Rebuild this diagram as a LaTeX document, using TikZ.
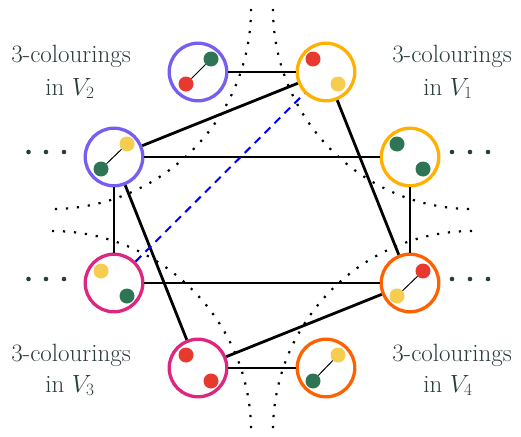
\documentclass[tikz,border=0pt]{standalone}
\usetikzlibrary{calc}
\definecolor{cpurple}{HTML}{785EF0}
\definecolor{cgold}{HTML}{FFB000}
\definecolor{cmagenta}{HTML}{DC267F}
\definecolor{corange}{HTML}{FE6100}
\definecolor{dred}{HTML}{E8392F}
\definecolor{dgreen}{HTML}{2E7556}
\definecolor{dyellow}{HTML}{F6CD4E}
\definecolor{txt}{HTML}{2A3B3B}
\begin{document}
\begin{tikzpicture}[x=1pt,y=-1pt,
  vbox/.style={circle,draw,line width=3.3pt,minimum size=57.6pt,inner sep=0pt,fill=white},
  vdot/.style={circle,minimum size=15pt,inner sep=0pt},
  link/.style={line width=1pt,black},
  edge/.style={line width=2.8pt,black},
  sep/.style={line width=2.2pt,dash pattern=on 2.2pt off 8.8pt,black},
  ell/.style={circle,fill=txt,inner sep=0pt,minimum size=4.6pt},
  lab/.style={text=txt,anchor=base,inner sep=0pt,font=\fontsize{25}{33}\selectfont}]
\useasboundingbox (0,0) rectangle (521,436);
% separating dotted curves
\draw[sep] (251,9) .. controls (251,119) and (161,209) .. (52,209);
\draw[sep] (273,9) .. controls (273,119) and (363,209) .. (472,209);
\draw[sep] (52,231) .. controls (161,231) and (251,321) .. (251,431);
\draw[sep] (472,231) .. controls (363,231) and (273,321) .. (273,431);
% vertex circles
\node[vbox,draw=cpurple] (a) at (198,72) {};
\node[vbox,draw=cgold] (b) at (326,72) {};
\node[vbox,draw=cpurple] (c) at (114,157) {};
\node[vbox,draw=cgold] (d) at (410,157) {};
\node[vbox,draw=cmagenta] (e) at (114,283) {};
\node[vbox,draw=corange] (f) at (410,283) {};
\node[vbox,draw=cmagenta] (g) at (198,368) {};
\node[vbox,draw=corange] (h) at (326,368) {};
% edges
\draw[edge] (a) -- (b);
\draw[edge] (b) -- (c);
\draw[edge] (c) -- (d);
\draw[edge] (b) -- (f);
\draw[edge] (c) -- (e);
\draw[edge] (c) -- (g);
\draw[edge] (d) -- (f);
\draw[edge] (e) -- (f);
\draw[edge] (f) -- (g);
\draw[edge] (g) -- (h);
\draw[blue,line width=2pt,dash pattern=on 8pt off 6pt] (e) -- (b);
% dots inside circles
\node[vdot,fill=dgreen] (a1) at (211,59) {};
\node[vdot,fill=dred] (a2) at (186,84) {};
\draw[link] (a1) -- (a2);
\node[vdot,fill=dred] (b1) at (313,59) {};
\node[vdot,fill=dyellow] (b2) at (338,84) {};
\node[vdot,fill=dyellow] (c1) at (127,144) {};
\node[vdot,fill=dgreen] (c2) at (101,169) {};
\draw[link] (c1) -- (c2);
\node[vdot,fill=dgreen] (d1) at (397,144) {};
\node[vdot,fill=dgreen] (d2) at (423,169) {};
\node[vdot,fill=dyellow] (e1) at (101,271) {};
\node[vdot,fill=dgreen] (e2) at (127,296) {};
\node[vdot,fill=dred] (f1) at (423,271) {};
\node[vdot,fill=dyellow] (f2) at (397,296) {};
\draw[link] (f1) -- (f2);
\node[vdot,fill=dred] (g1) at (186,355) {};
\node[vdot,fill=dred] (g2) at (211,381) {};
\node[vdot,fill=dyellow] (h1) at (338,355) {};
\node[vdot,fill=dgreen] (h2) at (313,381) {};
\draw[link] (h1) -- (h2);
% ellipses
\foreach \i/\x/\y in {1/28.5/152,2/46/152,3/64/152,4/28.5/279,5/46/279,6/64/279,
  7/452/152,8/470/152,9/488/152,10/452/279,11/470/279,12/488/279}
  \node[ell] (el\i) at (\x,\y) {};
% labels
\node[lab] (l2a) at (71,62) {3-colourings};
\node[lab] (l2b) at (70,95) {in $V_2$};
\node[lab] (l1a) at (452,62) {3-colourings};
\node[lab] (l1b) at (448,95) {in $V_1$};
\node[lab] (l3a) at (71,361) {3-colourings};
\node[lab] (l3b) at (70,392) {in $V_3$};
\node[lab] (l4a) at (452,361) {3-colourings};
\node[lab] (l4b) at (448,392) {in $V_4$};
\end{tikzpicture}
\end{document}
